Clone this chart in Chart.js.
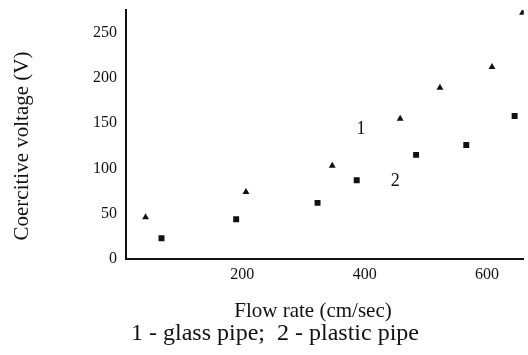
<!DOCTYPE html>
<html>
<head>
<meta charset="utf-8">
<script src="https://cdn.jsdelivr.net/npm/chart.js@4/dist/chart.umd.min.js"></script>
<style>
  html, body { margin: 0; padding: 0; background: #fff; }
  #wrap { width: 528px; height: 355px; position: relative; }
</style>
</head>
<body>
<div id="wrap"><canvas id="c"></canvas></div>
<script>
// Datos: caudal (cm/s) vs. tensión coercitiva (V)
const vidrioX   = [42, 206, 347, 458, 523, 608, 658];
const vidrioY   = [46, 74, 103, 155, 189, 212, 272];
const plasticoX = [68, 190, 323, 387, 484, 566, 645];
const plasticoY = [23, 44, 62, 87, 115, 126, 158];
const ticksX = [200, 400, 600];
const ticksY = [0, 50, 100, 150, 200, 250];
// rótulos de curva dentro del área: [texto, x, y]
const rotulos = [['1', 394, 143], ['2', 450, 86]];

const TINTA = '#111';
const SERIF = '"Liberation Serif", "DejaVu Serif", serif';

// Textos fuera de escala: título de eje Y, eje X y leyenda inferior
const textos = {
  id: 'textos',
  afterDraw(chart) {
    const ctx = chart.ctx;
    const { x, y } = chart.scales;
    ctx.save();
    ctx.fillStyle = TINTA;
    ctx.textAlign = 'center';
    ctx.textBaseline = 'middle';
    ctx.font = '18px ' + SERIF;
    rotulos.forEach(([t, vx, vy]) => ctx.fillText(t, x.getPixelForValue(vx), y.getPixelForValue(vy)));
    ctx.font = '21px ' + SERIF;
    ctx.fillText('Flow rate (cm/sec)', 313, 311);
    ctx.font = '24px ' + SERIF;
    ctx.fillText('1 - glass pipe;  2 - plastic pipe', 275, 334);
    ctx.translate(22, 146);
    ctx.rotate(-Math.PI / 2);
    ctx.font = '21px ' + SERIF;
    ctx.fillText('Coercitive voltage (V)', 0, 0);
    ctx.restore();
  }
};

new Chart(document.getElementById('c'), {
  type: 'scatter',
  data: {
    datasets: [
      { label: '1 - glass pipe', data: vidrioX.map((v, i) => ({ x: v, y: vidrioY[i] })),
        pointStyle: 'triangle', radius: 4, backgroundColor: TINTA, borderColor: TINTA, borderWidth: 0 },
      { label: '2 - plastic pipe', data: plasticoX.map((v, i) => ({ x: v, y: plasticoY[i] })),
        pointStyle: 'rect', radius: 4.2, backgroundColor: TINTA, borderColor: TINTA, borderWidth: 0 },
    ],
  },
  options: {
    responsive: true, maintainAspectRatio: false, animation: false,
    layout: { padding: { top: 10, left: 0, right: 0, bottom: 0 } },
    plugins: { legend: { display: false }, tooltip: { enabled: false } },
    scales: {
      x: {
        min: 10, max: 660,
        afterBuildTicks: s => { s.ticks = ticksX.map(v => ({ value: v })); },
        afterFit: s => { s.height = 96; },
        grid: { display: false, drawTicks: false },
        border: { color: TINTA, width: 2 },
        ticks: { color: TINTA, padding: 6, maxRotation: 0, font: { family: SERIF, size: 16 } },
      },
      y: {
        min: 0, max: 275,
        afterBuildTicks: s => { s.ticks = ticksY.map(v => ({ value: v })); },
        afterFit: s => { s.width = 126; s.paddingTop = 0; s.paddingBottom = 0; },
        grid: { display: false, drawTicks: false },
        border: { color: TINTA, width: 2 },
        ticks: { color: TINTA, padding: 9, font: { family: SERIF, size: 16 } },
      },
    },
  },
  plugins: [textos],
});
</script>
</body>
</html>
